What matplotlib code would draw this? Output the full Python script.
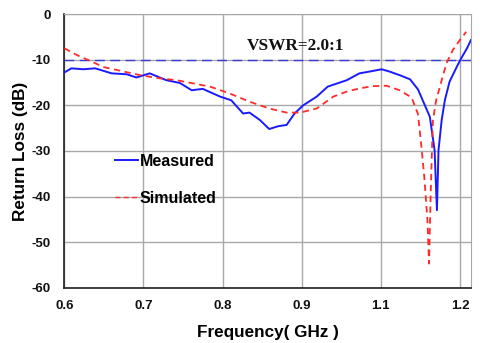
import numpy as np
import matplotlib.pyplot as plt
from matplotlib.lines import Line2D

plt.rcParams["axes.unicode_minus"] = False

# ── data ────────────────────────────────────────────────────────────────────
meas_f = [0.600, 0.609, 0.624, 0.639, 0.660, 0.679, 0.691, 0.708, 0.729, 0.746,
          0.761, 0.775, 0.797, 0.811, 0.826, 0.834, 0.847, 0.859, 0.870, 0.881,
          0.891, 0.902, 0.919, 0.933, 0.957, 0.973, 0.986, 1.001, 1.011, 1.024,
          1.037, 1.047, 1.053, 1.062, 1.068, 1.071, 1.073, 1.077, 1.081, 1.087,
          1.096, 1.101, 1.109, 1.114]
meas_rl = [-12.8, -11.9, -12.1, -11.9, -13.0, -13.2, -13.9, -13.0, -14.5, -15.1,
           -16.7, -16.4, -18.1, -18.9, -21.8, -21.6, -23.2, -25.2, -24.6, -24.3,
           -21.8, -20.0, -18.1, -15.9, -14.5, -13.0, -12.6, -12.1, -12.6, -13.4,
           -14.3, -16.5, -18.9, -22.5, -29.8, -43.0, -29.8, -23.2, -18.9, -14.8,
           -11.6, -9.9, -7.5, -5.7]

sim_f = [0.600, 0.616, 0.632, 0.649, 0.670, 0.696, 0.721, 0.742, 0.763, 0.784,
         0.809, 0.834, 0.859, 0.881, 0.898, 0.919, 0.940, 0.957, 0.973, 0.990,
         1.007, 1.024, 1.039, 1.047, 1.051, 1.055, 1.059, 1.061, 1.063, 1.065,
         1.066, 1.070, 1.077, 1.083, 1.091, 1.100, 1.108]
sim_rl = [-7.5, -9.0, -10.2, -11.6, -12.4, -13.4, -14.1, -14.5, -15.2, -15.9,
          -17.4, -19.2, -20.7, -21.6, -21.6, -20.7, -18.1, -17.0, -16.3, -15.8,
          -15.7, -16.7, -18.3, -21.9, -28.4, -35.7, -45.2, -54.7, -40.0, -28.0,
          -23.2, -18.9, -14.5, -10.8, -7.9, -5.7, -3.9]

vswr_level = -10
xticks = [0.6, 0.7, 0.8, 0.9, 1.0, 1.1]
xtick_labels = ["0.6", "0.7", "0.8", "0.9", "1.1", "1.2"]
yticks = [0, -10, -20, -30, -40, -50, -60]

# ── figure ──────────────────────────────────────────────────────────────────
fig = plt.figure(figsize=(4.8, 3.43), dpi=100)
ax = fig.add_axes([0.134, 0.161, 0.847, 0.798])

ax.axhline(vswr_level, color="#3a3ad8", lw=1.0, dashes=(7, 4), zorder=2)
ax.plot(meas_f, meas_rl, color="#1a1aff", lw=1.4, zorder=3)
ax.plot(sim_f, sim_rl, color="#ff2a2a", lw=1.3, dashes=(3.5, 2.5), zorder=3)

ax.set_xlim(0.6, 1.1139)
ax.set_ylim(-60, 0)
ax.set_xticks(xticks)
ax.set_xticklabels(xtick_labels)
ax.set_yticks(yticks)
ax.tick_params(axis="x", length=0, labelsize=9.5, pad=9)
ax.tick_params(axis="y", length=0, labelsize=9.5, pad=10)
for lab in ax.get_xticklabels() + ax.get_yticklabels():
    lab.set_fontweight("bold")
    lab.set_fontfamily("Liberation Sans")
    lab.set_color("#111111")

ax.grid(True, color="#a8a8a8", lw=1.0)
ax.set_axisbelow(True)
for side in ("top", "right"):
    ax.spines[side].set_color("#a8a8a8")
for side in ("left", "bottom"):
    ax.spines[side].set_color("#202020")
    ax.spines[side].set_linewidth(1.2)

ax.set_xlabel("Frequency( GHz )", fontsize=12.3, fontweight="bold",
              family="Liberation Sans", labelpad=9)
ax.set_ylabel("Return Loss (dB)", fontsize=12.3, fontweight="bold",
              family="Liberation Sans", labelpad=2)

ax.text(0.892, -7.0, "VSWR=2.0:1", fontsize=12.4, fontweight="bold",
        family="Liberation Serif", ha="center", va="center", color="#111111")

handles = [Line2D([], [], color="#1a1aff", lw=1.4),
           Line2D([], [], color="#ff2a2a", lw=1.0, dashes=(3.5, 2.5))]
ax.legend(handles, ["Measured", "Simulated"], loc="upper left",
          bbox_to_anchor=(0.125, 0.489), frameon=False, borderpad=0,
          borderaxespad=0, handlelength=1.4, handletextpad=0.15,
          labelspacing=1.38, prop={"family": "Liberation Sans",
                                   "weight": "bold", "size": 11.5})

fig.savefig("out.png", dpi=100)
